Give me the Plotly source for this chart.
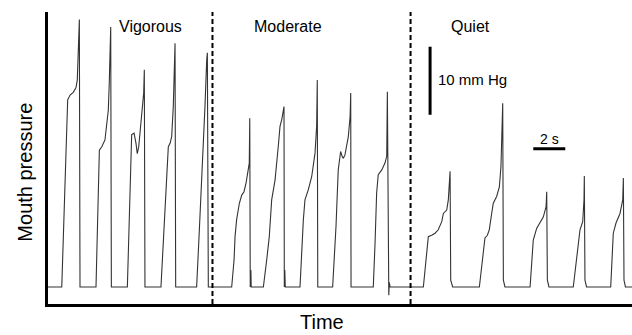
import plotly.graph_objects as go

# Time (s) and mouth pressure (mm Hg above baseline)
vigorous_t = [0.00, 0.86, 1.23, 1.38, 1.58, 1.75, 1.83, 1.88, 1.96, 2.00,
              3.00, 3.21, 3.36, 3.56, 3.77, 3.83, 3.92, 3.96,
              4.96, 5.23, 5.38, 5.50, 5.58, 5.67, 5.75, 5.92, 5.98, 6.02, 6.06,
              7.06, 7.38, 7.52, 7.63, 7.73, 7.83, 7.89, 7.94, 7.98,
              9.29, 9.46, 9.61, 9.71, 9.81, 9.92, 9.96, 10.02]
vigorous_p = [0.0, 0.0, 27.5, 28.2, 28.6, 29.3, 30.4, 34.4, 39.3, 0.0,
              0.0, 20.1, 20.6, 21.6, 26.0, 30.0, 38.2, 0.0,
              0.0, 22.4, 22.6, 21.1, 19.6, 20.6, 22.6, 26.0, 28.5, 31.9, 0.0,
              0.0, 14.8, 20.6, 21.1, 22.1, 26.5, 31.9, 35.8, 0.0,
              0.0, 8.4, 15.7, 20.6, 26.5, 33.4, 34.4, 0.0]

moderate_t = [11.48, 11.63, 11.69, 11.79, 11.96, 12.11, 12.25, 12.38, 12.52, 12.58, 12.61, 12.64, 12.68, 12.70,
              13.46, 13.67, 13.83, 13.98, 14.19, 14.39, 14.50, 14.61, 14.71, 14.75, 14.77, 14.80, 14.83,
              15.75, 15.96, 16.06, 16.27, 16.48, 16.69, 16.79, 16.83, 16.86,
              17.79, 18.00, 18.14, 18.21, 18.29, 18.38, 18.46, 18.56, 18.67, 18.77, 18.88, 18.92, 18.94,
              20.33, 20.44, 20.54, 20.64, 20.86, 21.06, 21.17, 21.21, 21.27, 21.30, 21.33, 21.38]
moderate_p = [0.0, 4.0, 7.4, 9.9, 12.3, 13.5, 14.0, 15.3, 17.2, 18.2, 24.8, 0.0, 2.5, 0.0,
              0.0, 4.0, 7.4, 12.8, 15.7, 20.6, 23.6, 24.6, 26.0, 26.5, 0.0, 2.5, 0.0,
              0.0, 9.9, 12.8, 14.3, 16.2, 19.7, 23.6, 30.4, 0.0,
              0.0, 8.9, 17.2, 18.7, 19.9, 19.2, 18.9, 19.4, 20.6, 22.1, 25.0, 28.5, 0.0,
              0.0, 6.4, 13.8, 16.5, 17.2, 18.2, 19.2, 28.7, 0.0, -1.2, 0.7, 0.0]

quiet_t = [23.46, 23.67, 23.77, 23.98, 24.19, 24.39, 24.61, 24.71, 24.92, 25.02, 25.08, 25.13, 25.17, 25.29,
           26.96, 27.21, 27.31, 27.46, 27.58, 27.73, 27.83, 28.04, 28.21, 28.31, 28.42, 28.46, 28.56,
           30.13, 30.33, 30.54, 30.75, 30.96, 31.13, 31.17, 31.21, 31.31,
           32.83, 33.04, 33.25, 33.42, 33.50, 33.52, 33.56, 33.66,
           35.17, 35.33, 35.50, 35.75, 35.92, 35.96, 36.00, 36.09, 37.00]
quiet_p = [0.0, 5.9, 7.4, 7.6, 7.9, 8.4, 9.6, 10.8, 11.3, 12.8, 16.2, 17.0, 1.0, 0.0,
           0.0, 5.9, 7.2, 7.6, 8.4, 10.8, 12.3, 13.3, 14.7, 17.7, 27.0, 1.0, 0.0,
           0.0, 6.9, 8.6, 9.4, 10.3, 11.8, 14.0, 1.0, 0.0,
           0.0, 4.5, 8.4, 9.6, 12.8, 16.3, 1.0, 0.0,
           0.0, 7.9, 9.4, 10.8, 12.8, 16.0, 1.0, 0.0, 0.0]

section_labels = ["Vigorous", "Moderate", "Quiet"]
section_label_t = [6.38, 14.97, 26.38]
section_dividers_t = [10.28, 22.66]

# scale bars
pressure_bar_t = 23.88
pressure_bar_p0 = 25.3
pressure_bar_len = 10      # mm Hg
time_bar_t0 = 30.33
time_bar_len = 2           # s
time_bar_p = 20.3

x_range = [0, 36.5]
y_range = [-2.5, 40.4]

t_all = vigorous_t + moderate_t + quiet_t
p_all = vigorous_p + moderate_p + quiet_p

fig = go.Figure()
fig.add_trace(go.Scatter(x=t_all, y=p_all, mode="lines",
                         line=dict(color="#333333", width=1.1),
                         showlegend=False, hoverinfo="skip"))

shapes = []
for td in section_dividers_t:
    shapes.append(dict(type="line", xref="x", yref="paper", x0=td, x1=td, y0=0, y1=1,
                       line=dict(color="black", width=2, dash="5px,3px")))
shapes.append(dict(type="line", xref="x", yref="y", x0=pressure_bar_t, x1=pressure_bar_t,
                   y0=pressure_bar_p0, y1=pressure_bar_p0 + pressure_bar_len,
                   line=dict(color="black", width=3)))
shapes.append(dict(type="line", xref="x", yref="y", x0=time_bar_t0, x1=time_bar_t0 + time_bar_len,
                   y0=time_bar_p, y1=time_bar_p, line=dict(color="black", width=3)))

FONT = "Liberation Sans, Arial, sans-serif"
annotations = []
for lab, tl in zip(section_labels, section_label_t):
    annotations.append(dict(text=lab, x=tl, y=0.949, xref="x", yref="paper",
                            showarrow=False, xanchor="center", yanchor="middle",
                            font=dict(family=FONT, size=16, color="black")))
annotations.append(dict(text="10 mm Hg", x=pressure_bar_t + 0.38, y=pressure_bar_p0 + 5.2,
                        xref="x", yref="y", showarrow=False, xanchor="left", yanchor="middle",
                        font=dict(family=FONT, size=15, color="black")))
annotations.append(dict(text="2 s", x=time_bar_t0 + time_bar_len / 2, y=time_bar_p + 1.4,
                        xref="x", yref="y", showarrow=False, xanchor="center", yanchor="middle",
                        font=dict(family=FONT, size=14, color="black")))
annotations.append(dict(text="Time", x=0.469, y=-0.062, xref="paper", yref="paper",
                        showarrow=False, xanchor="center", yanchor="middle",
                        font=dict(family=FONT, size=20, color="black")))
annotations.append(dict(text="Mouth pressure", x=-0.04, y=0.452, xref="paper", yref="paper",
                        showarrow=False, xanchor="center", yanchor="middle", textangle=-90,
                        font=dict(family=FONT, size=20, color="black")))

fig.update_layout(
    width=632, height=335,
    margin=dict(l=48, r=0, t=12, b=31),
    paper_bgcolor="white", plot_bgcolor="white",
    shapes=shapes, annotations=annotations,
    xaxis=dict(range=x_range, showgrid=False, zeroline=False, showticklabels=False,
               ticks="", showline=True, linecolor="black", linewidth=2.5, fixedrange=True),
    yaxis=dict(range=y_range, showgrid=False, zeroline=False, showticklabels=False,
               ticks="", showline=True, linecolor="black", linewidth=2.5, fixedrange=True),
)

fig.write_html("out.html")
